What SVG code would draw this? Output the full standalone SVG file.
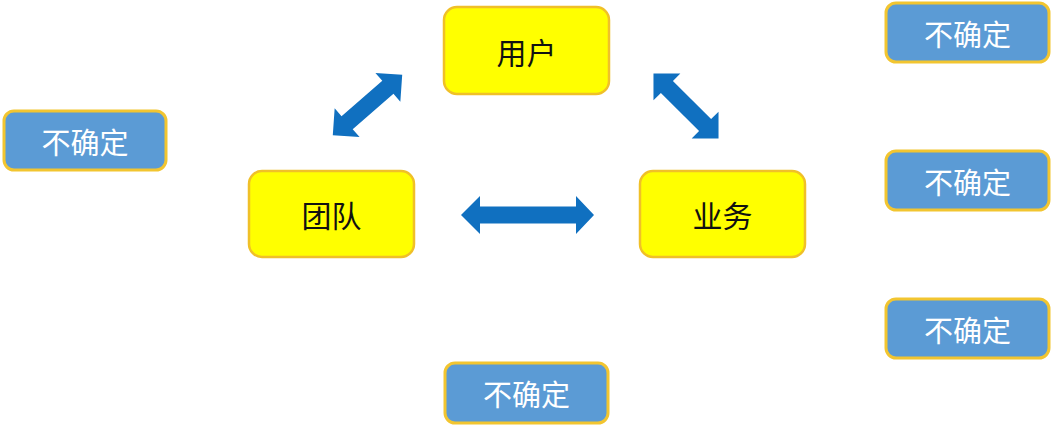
<svg xmlns="http://www.w3.org/2000/svg" width="1053" height="430" viewBox="0 0 1053 430">
<style>
.core rect{fill:#ffff00;stroke:#f0c028;stroke-width:2.5}
.core text{font-family:"Noto Sans CJK SC",sans-serif;font-size:30px;fill:#111;text-anchor:middle;dominant-baseline:central}
.unk rect{fill:#5b9bd5;stroke:#f2c530;stroke-width:3}
.unk text{font-family:"Noto Sans CJK SC",sans-serif;font-size:29px;fill:#fff;text-anchor:middle;dominant-baseline:central}
.arr{fill:#1070c0}
</style>
<defs>
<path id="diag" d="M-46,0 L-27,-19 L-27,-8.5 L27,-8.5 L27,-19 L46,0 L27,19 L27,8.5 L-27,8.5 L-27,19 Z"/>
</defs>
<rect width="1053" height="430" fill="#fff"/>
<g id="connectors">
<path class="arr" d="M461,215 L480,196 L480,206.5 L576,206.5 L576,196 L594,215 L576,234 L576,223.5 L480,223.5 L480,234 Z"/>
<use class="arr" href="#diag" transform="translate(367.5,105) rotate(-41)"/>
<use class="arr" href="#diag" transform="translate(686,106) rotate(45)"/>
</g>
<g id="user" class="core"><rect x="444" y="7" width="165" height="87" rx="13"/><text x="526.5" y="50.5">用户</text></g>
<g id="team" class="core"><rect x="249" y="171" width="165" height="86" rx="13"/><text x="331.5" y="214">团队</text></g>
<g id="business" class="core"><rect x="640" y="171" width="165" height="86" rx="13"/><text x="722.5" y="214">业务</text></g>
<g id="unk-left" class="unk"><rect x="4" y="111" width="162" height="59" rx="10"/><text x="85" y="140.5">不确定</text></g>
<g id="unk-tr" class="unk"><rect x="886" y="3" width="163" height="59" rx="10"/><text x="967.5" y="32.5">不确定</text></g>
<g id="unk-mr" class="unk"><rect x="886" y="151" width="163" height="59" rx="10"/><text x="967.5" y="180.5">不确定</text></g>
<g id="unk-br" class="unk"><rect x="886" y="299" width="163" height="59" rx="10"/><text x="967.5" y="328.5">不确定</text></g>
<g id="unk-bottom" class="unk"><rect x="445" y="363" width="163" height="60" rx="10"/><text x="526.5" y="393">不确定</text></g>
</svg>
